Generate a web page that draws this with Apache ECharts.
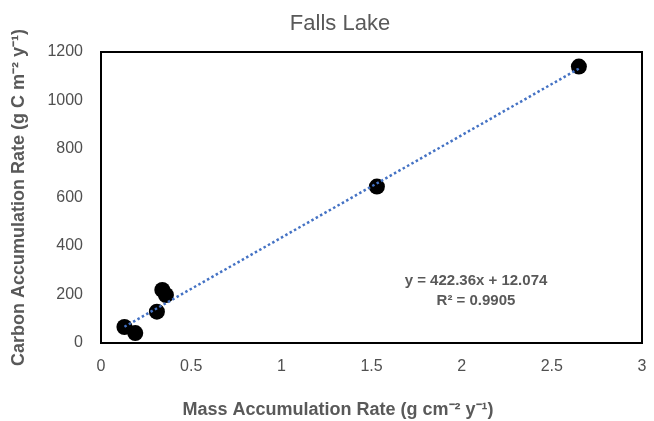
<!DOCTYPE html>
<html><head><meta charset="utf-8">
<script src="https://cdn.jsdelivr.net/npm/echarts@6/dist/echarts.min.js"></script>
<style>html,body{margin:0;padding:0;background:#fff}#c{width:654px;height:421px}</style>
</head><body><div id="c"></div>
<script>
const massRate = [0.13, 0.19, 0.31, 0.34, 0.36, 1.53, 2.65];
const carbonRate = [66, 41, 129, 219, 198, 645, 1140];
const trendSlope = 422.36;
const trendIntercept = 12.074;
const xTicks = [0, 0.5, 1, 1.5, 2, 2.5, 3];
const yTicks = [0, 200, 400, 600, 800, 1000, 1200];
const titleText = 'Falls Lake';
const xName = 'Mass Accumulation Rate (g cm⁻² y⁻¹)';
const yName = 'Carbon Accumulation Rate (g C m⁻² y⁻¹)';
const eqText = 'y = 422.36x + 12.074';
const r2Text = 'R² = 0.9905';

const pts = massRate.map((x, i) => [x, carbonRate[i]]);
const xMin = Math.min(...massRate), xMax = Math.max(...massRate);
const trend = [[xMin, trendSlope * xMin + trendIntercept], [xMax, trendSlope * xMax + trendIntercept]];
const gray = '#595959';
const font = 'Liberation Sans';

const chart = echarts.init(document.getElementById('c'));
chart.setOption({
  animation: false,
  textStyle: { fontFamily: font },
  title: { text: titleText, left: 335, textAlign: 'center', top: 8, textStyle: { color: gray, fontSize: 22, fontWeight: 'normal', fontFamily: font } },
  grid: { left: 101, right: 12, top: 52, bottom: 78, show: true, borderColor: '#000', borderWidth: 2, backgroundColor: '#fff' },
  xAxis: {
    type: 'value', min: xTicks[0], max: xTicks[xTicks.length - 1], interval: 0.5,
    axisLine: { show: false }, axisTick: { show: false }, splitLine: { show: false },
    axisLabel: { color: '#505050', fontSize: 16, margin: 16 }
  },
  yAxis: {
    type: 'value', min: yTicks[0], max: yTicks[yTicks.length - 1], interval: 200,
    axisLine: { show: false }, axisTick: { show: false }, splitLine: { show: false },
    axisLabel: { color: '#505050', fontSize: 16, margin: 18, formatter: v => String(v) },
    name: yName, nameLocation: 'middle', nameGap: 73,
    nameTextStyle: { color: gray, fontSize: 18, fontWeight: 'bold' }
  },
  series: [
    { type: 'scatter', data: pts, symbolSize: 16, itemStyle: { color: '#000', opacity: 1 }, z: 2 },
    { type: 'line', data: trend, showSymbol: false, symbol: 'none', z: 3,
      lineStyle: { color: '#4472C4', width: 2.5, type: 'dotted' } }
  ],
  graphic: [
    { type: 'text', x: 338, y: 410, style: { text: xName, fill: gray, font: 'bold 18px "Liberation Sans"', textAlign: 'center', textVerticalAlign: 'middle' } },
    { type: 'text', x: 476, y: 291, style: { text: eqText + '\n' + r2Text, fill: gray, font: 'bold 15px "Liberation Sans"', textAlign: 'center', textVerticalAlign: 'middle', lineHeight: 20 } }
  ]
});
</script></body></html>
